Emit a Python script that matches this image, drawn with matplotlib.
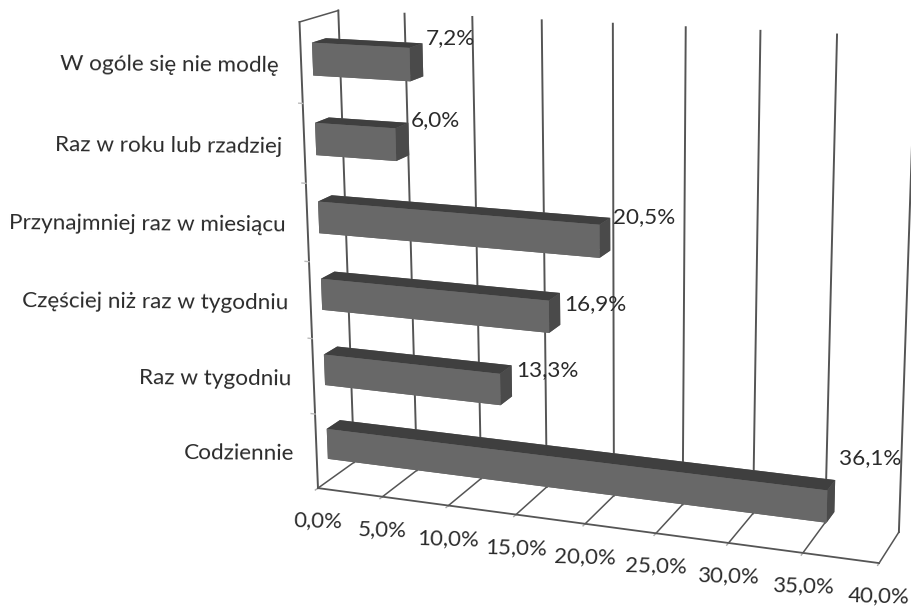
import numpy as np
import matplotlib
matplotlib.use('Agg')
import matplotlib.pyplot as plt
from matplotlib.transforms import Affine2D

categories = ['W ogóle się nie modlę', 'Raz w roku lub rzadziej', 'Przynajmniej raz w miesiącu',
              'Częściej niż raz w tygodniu', 'Raz w tygodniu', 'Codziennie']
values = [7.2, 6.0, 20.5, 16.9, 13.3, 36.1]
value_labels = ['7,2%', '6,0%', '20,5%', '16,9%', '13,3%', '36,1%']
ticks = [0, 5, 10, 15, 20, 25, 30, 35, 40]
tick_labels = ['0,0%', '5,0%', '10,0%', '15,0%', '20,0%', '25,0%', '30,0%', '35,0%', '40,0%']

# where the chart box sits on the page, in pixels, used to fit the camera
front_floor = [(318, 487), (382, 497), (448, 506), (517, 515), (586, 524), (656, 533), (729, 543), (803, 553), (878, 563)]
back_floor = [(353, 463), (417, 470), (482, 478), (547, 486), (613, 496), (683, 504), (753, 513), (826, 522), (898, 534)]
back_top = [(339, 12), (404, 14), (472, 16), (542, 20), (613, 24), (686, 27), (761, 30), (837, 35), (915, 38)]
front_left_top = (299, 22)

W, H = 911, 607

X = []
U = []
for t, a, b, c in zip(ticks, front_floor, back_floor, back_top):
    X += [(t, 0, 0), (t, 1, 0), (t, 1, 1)]
    U += [a, b, c]
X.append((0, 0, 1))
U.append(front_left_top)

A = []
B = []
for (x, y, z), (u, v) in zip(X, U):
    A.append([x, y, z, 1, 0, 0, 0, 0, -u * x, -u * y, -u * z])
    A.append([0, 0, 0, 0, x, y, z, 1, -v * x, -v * y, -v * z])
    B += [u, v]
p = np.linalg.lstsq(np.array(A, float), np.array(B, float), rcond=None)[0]
P = np.append(p, 1).reshape(3, 4)


def project(x, y, z):
    q = P @ np.array([x, y, z, 1.0])
    return q[0] / q[2], q[1] / q[2]


fig = plt.figure(figsize=(W / 100, H / 100), dpi=100)
ax = fig.add_axes([0, 0, 1, 1], projection='3d')
ax.set_axis_off()
px = Affine2D().scale(1, -1).translate(0, H)


def get_proj():
    # pixel camera -> the 2d data space of the 3d axes
    inv = ax.transData.inverted().get_matrix() @ px.get_matrix()
    r = inv @ P
    # depth row stays negative, mplot3d drops points with z > 0
    return np.array([r[0], r[1], [0, 1, 0, -3], r[2]])


ax.get_proj = get_proj

line_c = '#555555'
for t in ticks:
    ax.plot([t, t], [1, 1], [0, 1], color=line_c, lw=1.4)
    ax.plot([t, t], [0, 1], [0, 0], color=line_c, lw=1.1)
    ax.plot([t, t], [0, -0.07], [0, 0], color='#aaaaaa', lw=1)
ax.plot([0, 40], [0, 0], [0, 0], color=line_c, lw=1.3)
ax.plot([0, 0], [0, 0], [0, 1], color=line_c, lw=1.4)
ax.plot([0, 0], [0, 1], [1, 1], color=line_c, lw=1.1)
for i in range(1, 6):
    ax.plot([0, -0.3], [0, 0], [i / 6, i / 6], color='#bbbbbb', lw=1)

n = len(values)
bar_z = np.array([(n - 1 - i + 0.5) / n - 0.034 for i in range(n)])
front = '#686868'
top = '#3f3f3f'
side = '#4a4a4a'
face_colors = [front, top, front, front, front, side] * n
ax.bar3d(np.zeros(n), np.full(n, 0.29), bar_z, values, np.full(n, 0.36), np.full(n, 0.068),
         color=face_colors, shade=False)

for a in ax.get_children():
    a.set_clip_on(False)

for i, c in enumerate(categories):
    u, v = project(0, 0, (n - 1 - i + 0.5) / n)
    ax.text2D(u - 22, v + 2, c, transform=px, ha='right', va='center', fontsize=16.2,
              family='Lato', color='#2b2b2b', rotation=-0.5)

label_xy = [(450, 38), (435, 120), (644, 217), (595, 304), (547, 370), (870, 458)]
for (u, v), s in zip(label_xy, value_labels):
    ax.text2D(u, v, s, transform=px, ha='center', va='center', fontsize=16.2, family='Lato',
              color='#2b2b2b', zorder=50)

for t, s in zip(ticks, tick_labels):
    u, v = project(t, 0, 0)
    ax.text2D(u, v + 33, s, transform=px, ha='center', va='center', fontsize=16, family='Lato',
              color='#2b2b2b', rotation=-1.5)

fig.savefig('out.png', dpi=100)
